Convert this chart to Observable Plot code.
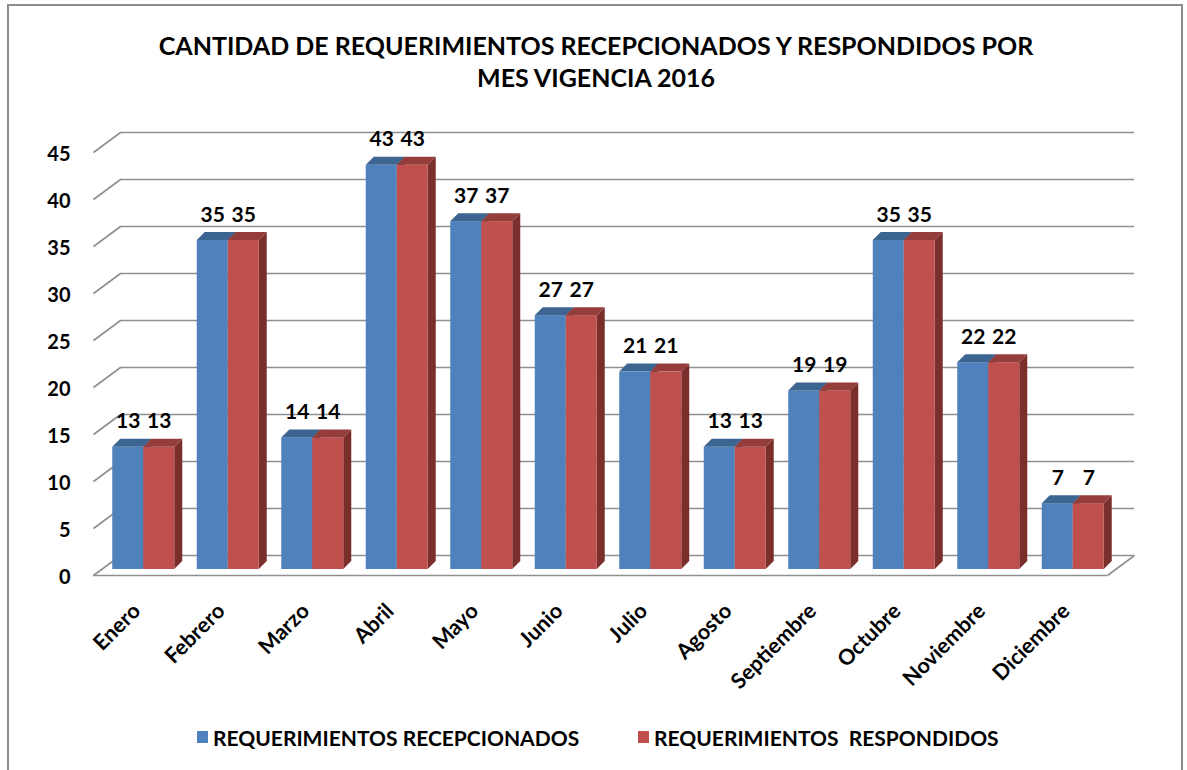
<!DOCTYPE html>
<html>
<head>
<meta charset="utf-8">
<script src="https://cdn.jsdelivr.net/npm/d3@7"></script>
<script src="https://cdn.jsdelivr.net/npm/@observablehq/plot@0.6"></script>
<style>
  html, body { margin: 0; padding: 0; background: #fff; overflow: hidden; width: 1187px; height: 770px; }
  body { font-family: Lato, "Open Sans", sans-serif; font-weight: bold; color: #000; position: relative; }
  #frame { position: absolute; left: 7px; top: 4px; width: 1176px; height: 820px; border: 2px solid #8c8c8c; box-sizing: border-box; }
  #title { position: absolute; left: 0; top: 29px; width: 1192px; text-align: center; font-size: 25px; line-height: 32px; }
  #chart { position: absolute; left: 0; top: 100px; }
  .leg { position: absolute; top: 725px; height: 24px; display: flex; align-items: center; font-size: 21px; white-space: pre; }
  .sw { width: 11px; height: 12px; margin-right: 5px; }
</style>
</head>
<body>
<div id="frame"></div>
<div id="title">CANTIDAD DE REQUERIMIENTOS RECEPCIONADOS Y RESPONDIDOS POR<br>MES VIGENCIA 2016</div>
<div id="chart"></div>
<div class="leg" style="left:197px"><div class="sw" style="background:#4F81BD"></div>REQUERIMIENTOS RECEPCIONADOS</div>
<div class="leg" style="left:638px"><div class="sw" style="background:#C0504D"></div>REQUERIMIENTOS  RESPONDIDOS</div>
<script>
// ---- data ----
const months = ["Enero", "Febrero", "Marzo", "Abril", "Mayo", "Junio", "Julio", "Agosto", "Septiembre", "Octubre", "Noviembre", "Diciembre"];
const recepcionados = [13, 35, 14, 43, 37, 27, 21, 13, 19, 35, 22, 7];
const respondidos = [13, 35, 14, 43, 37, 27, 21, 13, 19, 35, 22, 7];
const yTicks = [0, 5, 10, 15, 20, 25, 30, 35, 40, 45];
const seriesNames = ["REQUERIMIENTOS RECEPCIONADOS", "REQUERIMIENTOS  RESPONDIDOS"];

// ---- layout / style ----
const W = 1187, H = 600, ML = 93, MR = 80, MT = 52, MB = 125;
const pxX = (W - ML - MR) / months.length;   // px per x unit
const pxY = (H - MT - MB) / 45;              // px per y unit
const ux = p => p / pxX, uy = p => p / pxY;
const BACK_DX = 27, BACK_DY = 20;   // back wall offset (px)
const BAR_DX = 8, BAR_DY = 6;       // bar position inside depth (px)
const DEP_X = 8, DEP_Y = 8;         // bar depth (px)
const BAR_W = 31;                   // bar width (px)
const front = ["#4F81BD", "#C0504D"];
const topC = ["#3D6591", "#953D3A"];
const sideC = ["#34587F", "#7B2F2D"];
const grid = "#8f8f8f";

const bars = [];
months.forEach((m, i) => {
  [recepcionados[i], respondidos[i]].forEach((v, s) => {
    const c = i + 0.5;
    const x1 = s === 0 ? c - ux(BAR_W) : c;
    const x2 = s === 0 ? c : c + ux(BAR_W);
    bars.push({id: `${i}-${s}`, month: m, s, v, x1, x2});
  });
});
const tops = bars.flatMap(b => [
  {id: b.id, s: b.s, y: b.v, x1: b.x1, x2: b.x2},
  {id: b.id, s: b.s, y: b.v + uy(DEP_Y), x1: b.x1 + ux(DEP_X), x2: b.x2 + ux(DEP_X)}
]);
const sides = bars.flatMap(b => [
  {id: b.id, s: b.s, x: b.x2, y1: 0, y2: b.v},
  {id: b.id, s: b.s, x: b.x2 + ux(DEP_X), y1: uy(DEP_Y), y2: b.v + uy(DEP_Y)}
]);

const plot = Plot.plot({
  width: W, height: H,
  marginLeft: ML, marginRight: MR, marginTop: MT, marginBottom: MB,
  x: {domain: [0, months.length], axis: null},
  y: {domain: [0, 45], axis: null},
  style: {fontFamily: "Lato, 'Open Sans', sans-serif", fontSize: "20px", fontWeight: "bold", color: "#000", background: "transparent", overflow: "visible"},
  marks: [
    // back wall gridlines
    Plot.ruleY(yTicks, {y: d => d, x1: 0, x2: months.length, dx: BACK_DX, dy: -BACK_DY, stroke: grid, strokeWidth: 1.6, strokeOpacity: 1}),
    // left diagonal (side wall) gridlines
    Plot.link(yTicks, {x1: 0, x2: ux(BACK_DX), y1: d => d, y2: d => d + uy(BACK_DY), stroke: grid, strokeWidth: 1.6}),
    // floor front edge and right edge
    Plot.ruleY([0], {x1: 0, x2: months.length, stroke: grid, strokeWidth: 1.6}),
    Plot.link([0], {x1: months.length, x2: months.length + ux(BACK_DX), y1: 0, y2: uy(BACK_DY), stroke: grid, strokeWidth: 1.6}),
    // bars: side faces, fronts, tops
    Plot.areaY(sides, {x: "x", y1: "y1", y2: "y2", z: "id", fill: d => sideC[d.s], dx: BAR_DX, dy: -BAR_DY}),
    Plot.rect(bars, {x1: "x1", x2: "x2", y1: 0, y2: "v", fill: d => front[d.s], dx: BAR_DX, dy: -BAR_DY}),
    Plot.areaX(tops, {y: "y", x1: "x1", x2: "x2", z: "id", fill: d => topC[d.s], dx: BAR_DX, dy: -BAR_DY}),
    // value labels
    Plot.text(bars, {x: d => (d.x1 + d.x2) / 2, y: "v", text: d => String(d.v), lineAnchor: "bottom", dx: BAR_DX, dy: -BAR_DY - 19, fill: "#000", fontSize: 21, fontWeight: "bold"}),
    // y axis labels
    Plot.axisY(yTicks, {tickSize: 0, tickPadding: 23, dy: 2, fontSize: 20, fontWeight: "bold", label: null}),
    // month labels
    Plot.text(months, {x: (d, i) => i + 0.5, y: 0, text: d => d, rotate: -45, textAnchor: "end", dx: 1, dy: 32, fill: "#000", fontSize: 21.5, fontWeight: "bold"})
  ]
});
plot.querySelectorAll("path").forEach(p => p.setAttribute("shape-rendering", "geometricPrecision"));
document.getElementById("chart").appendChild(plot);
</script>
</body>
</html>
